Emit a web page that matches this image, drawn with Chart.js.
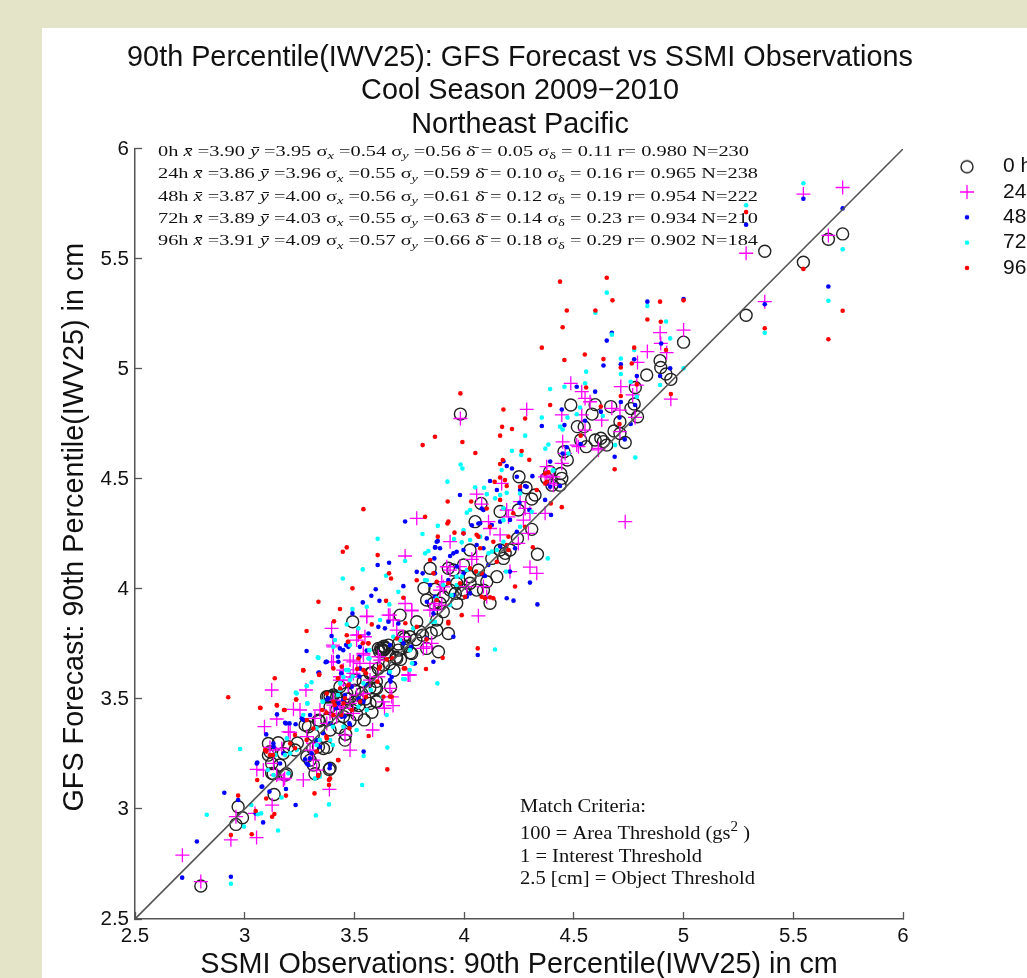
<!DOCTYPE html>
<html><head><meta charset="utf-8">
<script src="https://cdn.jsdelivr.net/npm/chart.js@4/dist/chart.umd.min.js"></script>
<style>
html,body{margin:0;padding:0;width:1027px;height:978px;overflow:hidden;background:#e4e4c9}
#panel{position:absolute;left:42px;top:28px;width:985px;height:950px;background:#fff}
#wrap{position:absolute;left:0;top:0;width:1027px;height:978px}
canvas{filter:blur(.4px)}
</style></head><body>
<div id="panel"></div><div id="wrap"><canvas id="c" width="1027" height="978"></canvas></div>
<script>
const titleLines=["90th Percentile(IWV25): GFS Forecast vs SSMI Observations","Cool Season 2009\u22122010","Northeast Pacific"];
const xAxisTitle="SSMI Observations: 90th Percentile(IWV25) in cm";
const yAxisTitle=" \u2009GFS Forecast: 90th Percentile(IWV25) in cm";
const xTicks=[2.5,3,3.5,4,4.5,5,5.5,6];
const yTicks=[2.5,3,3.5,4,4.5,5,5.5,6];
const diagonal=[[2.5,2.5],[6,6]];
const seriesNames=["0 hour","24 hour","48 hour","72 hour","96 hour"];
const statHours=["0h","24h","48h","72h","96h"];
const statXbar=["3.90","3.86","3.87","3.89","3.91"];
const statYbar=["3.95","3.96","4.00","4.03","4.09"];
const statSx=["0.54","0.55","0.56","0.55","0.57"];
const statSy=["0.56","0.59","0.61","0.63","0.66"];
const statDbar=["0.05","0.10","0.12","0.14","0.18"];
const statSd=["0.11","0.16","0.19","0.23","0.29"];
const statR=["0.980","0.965","0.954","0.934","0.902"];
const statN=["230","238","222","210","184"];

const hour0=[[5.725,5.614],[5.66,5.59],[5.546,5.485],[5.37,5.535],[5.285,5.244],[5.0,5.122],[4.893,5.038],[4.896,5.007],[4.92,4.977],[4.942,4.953],[4.832,4.973],[4.78,4.916],[4.486,4.836],[4.597,4.838],[4.668,4.829],[4.583,4.795],[4.775,4.841],[4.76,4.82],[4.79,4.783],[4.71,4.76],[4.683,4.718],[4.516,4.738],[4.547,4.738],[4.556,4.647],[4.531,4.677],[4.597,4.677],[4.623,4.685],[4.635,4.67],[4.65,4.654],[4.71,4.707],[4.734,4.666],[4.455,4.624],[4.47,4.586],[4.44,4.525],[4.445,4.503],[4.39,4.533],[4.376,4.503],[4.4,4.472],[4.437,4.472],[3.983,4.795],[4.25,4.51],[4.282,4.46],[4.077,4.389],[4.323,4.427],[4.308,4.409],[4.05,4.306],[4.164,4.352],[4.247,4.359],[4.308,4.271],[4.243,4.23],[4.164,4.177],[4.187,4.162],[4.209,4.177],[4.334,4.158],[4.027,4.177],[3.845,4.094],[3.928,4.094],[3.951,4.086],[3.997,4.109],[4.027,4.026],[4.057,3.995],[4.149,4.056],[4.103,4.033],[3.817,4.003],[3.867,3.999],[3.966,4.026],[3.936,3.995],[3.997,3.995],[4.088,3.995],[4.027,4.056],[4.065,4.086],[3.905,3.965],[3.829,3.95],[4.118,3.935],[3.989,3.98],[3.86,3.935],[3.89,3.935],[3.966,3.935],[4.126,4.139],[4.179,4.139],[3.492,3.851],[3.708,3.881],[3.784,3.851],[3.875,3.813],[3.928,3.798],[3.829,3.73],[3.883,3.715],[3.761,3.707],[3.624,3.722],[3.632,3.737],[3.693,3.684],[3.73,3.775],[3.632,3.654],[3.609,3.639],[3.571,3.616],[3.503,3.586],[3.434,3.556],[3.601,3.548],[3.404,3.518],[3.373,3.51],[3.571,3.48],[3.601,3.487],[3.518,3.495],[3.495,3.472],[3.389,3.465],[3.434,3.48],[3.723,3.783],[3.7,3.722],[3.632,3.722],[3.609,3.73],[3.655,3.745],[3.753,3.783],[3.799,3.806],[3.875,3.859],[3.905,3.897],[3.62,3.73],[3.63,3.72],[3.64,3.73],[3.615,3.715],[3.635,3.74],[3.389,3.51],[3.419,3.51],[3.336,3.404],[3.275,3.382],[3.29,3.374],[3.108,3.298],[3.153,3.301],[3.199,3.283],[3.229,3.268],[3.457,3.313],[3.359,3.275],[3.336,3.283],[3.389,3.185],[3.298,3.222],[3.313,3.2],[3.123,3.207],[3.123,3.162],[3.184,3.154],[3.134,3.066],[3.283,3.238],[3.108,3.245],[3.115,3.26],[3.176,3.253],[3.465,3.457],[3.503,3.488],[3.533,3.525],[3.419,3.45],[3.465,3.525],[3.374,3.404],[3.389,3.359],[3.313,3.336],[2.80,2.65],[2.97,3.01],[2.99,2.96],[2.96,2.93],[3.385,3.18],[3.32,3.16],[3.19,3.16],[3.13,3.16],[3.16,3.2],[3.24,3.30],[3.34,3.40],[3.375,3.28],[3.31,3.275],[3.38,3.51],[3.40,3.51],[3.60,3.49],[3.58,3.44],[3.545,3.405],[3.51,3.43],[3.43,3.37],[3.46,3.34],[3.665,3.555],[3.595,3.55],[3.755,3.71],[3.69,3.69],[3.45,3.42],[3.48,3.40],[3.52,3.47],[3.55,3.50],[3.57,3.55],[3.60,3.58],[3.66,3.66],[3.68,3.63],[3.71,3.68],[3.74,3.74],[3.78,3.77],[3.81,3.79],[3.85,3.80],[3.96,3.98],[3.50,3.54],[3.54,3.58],[3.47,3.50],[3.66,3.70],[3.70,3.75],[3.58,3.62]];

const hour24=[[5.725,5.825],[5.546,5.795],[5.66,5.607],[5.285,5.526],[5.37,5.306],[5.0,5.177],[4.893,5.165],[4.896,5.116],[4.923,5.074],[4.835,5.079],[4.79,5.03],[4.714,4.92],[4.787,4.927],[4.768,4.882],[4.942,4.863],[4.486,4.935],[4.536,4.897],[4.551,4.866],[4.574,4.851],[4.673,4.821],[4.71,4.813],[4.445,4.791],[4.536,4.791],[4.627,4.768],[4.551,4.722],[4.71,4.715],[4.779,4.78],[4.449,4.669],[4.521,4.647],[4.612,4.632],[4.445,4.571],[4.407,4.51],[4.369,4.51],[4.407,4.472],[3.983,4.775],[4.285,4.816],[4.734,4.306],[4.171,4.48],[4.057,4.431],[4.08,4.386],[3.936,4.215],[4.376,4.556],[4.255,4.397],[4.278,4.366],[4.194,4.359],[4.369,4.344],[4.111,4.306],[4.118,4.275],[4.247,4.207],[4.27,4.313],[4.202,4.328],[4.3,4.344],[4.392,4.48],[4.46,4.616],[4.513,4.654],[4.612,4.639],[4.057,4.147],[4.035,4.135],[4.3,4.099],[4.331,4.071],[4.209,4.079],[3.981,4.102],[3.898,4.033],[3.89,3.995],[4.088,4.011],[4.012,4.011],[3.936,4.086],[4.293,4.253],[4.164,4.246],[3.867,3.935],[4.103,3.965],[4.377,4.518],[3.784,4.321],[3.731,4.15],[3.556,3.877],[3.396,3.821],[3.655,3.881],[3.731,3.934],[3.761,3.901],[3.51,3.79],[4.065,3.878],[3.753,3.609],[3.404,3.737],[3.51,3.768],[3.693,3.813],[3.852,3.753],[3.814,3.73],[3.495,3.669],[3.541,3.7],[3.396,3.669],[3.677,3.859],[3.905,4.01],[3.86,3.904],[3.921,4.101],[3.48,3.6],[3.609,3.692],[3.723,3.783],[3.123,3.541],[3.279,3.541],[3.222,3.453],[3.252,3.45],[3.146,3.409],[3.09,3.374],[3.199,3.351],[3.055,3.18],[3.267,3.132],[3.386,3.089],[3.48,3.268],[3.457,3.336],[3.115,3.28],[3.085,3.177],[3.32,3.412],[3.343,3.45],[3.176,3.132],[3.146,3.154],[3.131,3.268],[3.298,3.268],[3.313,3.222],[3.328,3.177],[3.374,3.389],[3.419,3.419],[3.511,3.632],[3.434,3.586],[2.716,2.79],[2.937,2.86],[3.054,2.87],[2.80,2.67],[2.96,2.965],[3.125,3.018],[3.182,3.139],[3.047,2.98],[3.207,3.348],[3.583,3.359],[3.676,3.47],[3.745,3.609],[3.402,3.745],[3.637,3.458],[3.556,3.874],[3.662,3.881],[3.761,3.904],[3.518,3.791],[3.548,3.783],[3.404,3.669],[3.449,3.631],[3.48,3.677],[3.525,3.662],[3.571,3.662],[3.617,3.677],[3.541,3.707],[3.609,3.601],[3.67,3.51],[3.746,3.609],[3.829,3.737],[3.844,3.904],[3.898,3.927],[3.495,3.616],[3.434,3.601],[3.472,3.563],[3.571,3.586],[3.662,3.548],[3.404,3.472],[3.449,3.457],[3.51,3.518],[3.541,3.525],[3.632,3.487],[3.45,3.586],[3.48,3.48],[3.404,3.495],[3.434,3.465],[3.389,3.435],[3.495,3.435],[3.283,3.329],[3.313,3.298],[3.169,3.275],[3.131,3.207]];

const hour48=[[5.725,5.73],[5.546,5.774],[5.66,5.375],[5.37,5.294],[5.285,5.656],[4.835,5.306],[5.0,5.318],[4.673,5.165],[4.65,5.129],[4.898,5.116],[4.775,5.044],[4.714,5.021],[4.635,5.016],[4.939,5.003],[4.787,4.968],[4.893,4.968],[4.513,4.919],[4.597,4.897],[4.445,4.816],[4.714,4.85],[4.623,4.806],[4.779,4.836],[4.708,4.779],[4.354,4.741],[4.457,4.745],[4.551,4.765],[4.759,4.75],[4.732,4.68],[4.531,4.659],[4.468,4.644],[4.449,4.616],[4.392,4.579],[4.686,4.601],[4.437,4.468],[4.376,4.48],[4.179,4.581],[4.194,4.559],[4.218,4.548],[4.311,4.513],[4.118,4.491],[4.24,4.51],[4.278,4.468],[3.981,4.427],[4.08,4.366],[4.088,4.359],[4.396,4.336],[4.252,4.392],[4.297,4.359],[4.035,4.29],[4.065,4.298],[3.997,4.253],[3.88,4.218],[3.867,4.189],[4.164,4.306],[4.24,4.26],[4.103,4.23],[3.875,4.215],[3.951,4.162],[3.936,4.15],[3.997,4.177],[3.811,4.071],[3.867,4.071],[4.209,4.079],[4.095,4.059],[4.194,3.958],[4.225,3.947],[4.334,3.93],[4.3,4.029],[4.012,3.965],[3.867,3.965],[4.073,4.299],[4.126,4.291],[4.209,4.314],[4.088,4.185],[3.966,4.102],[4.232,4.185],[3.731,4.307],[3.658,4.119],[3.606,4.109],[3.597,3.999],[3.577,3.969],[3.538,3.939],[3.491,3.889],[3.614,3.946],[3.723,4.013],[3.784,4.078],[3.396,3.786],[3.282,3.718],[3.336,3.619],[3.371,3.669],[3.864,4.139],[3.869,4.189],[4.062,3.7],[3.776,3.662],[3.86,3.669],[3.434,3.73],[3.472,3.737],[3.564,3.798],[3.655,3.851],[3.7,3.843],[3.83,3.942],[3.966,4.169],[3.951,3.783],[3.609,3.828],[3.526,3.639],[3.67,3.6],[3.427,3.669],[3.723,3.753],[3.86,3.889],[4.027,3.98],[2.715,2.688],[2.782,2.852],[2.937,2.692],[2.907,3.074],[2.97,3.041],[3.084,2.939],[3.05,2.98],[3.113,3.079],[3.08,3.102],[3.188,3.091],[3.232,3.018],[3.147,3.43],[3.057,3.211],[3.098,3.339],[3.339,3.62],[3.542,3.261],[3.625,3.382],[3.369,3.667],[3.188,3.389],[3.204,3.389],[3.232,3.385],[3.267,3.405],[3.375,3.498],[3.387,3.185],[3.297,3.23],[3.275,3.226],[3.305,3.253],[3.44,3.617],[3.425,3.692],[3.462,3.745],[3.523,3.602],[3.477,3.389],[3.455,3.42],[3.357,3.344],[3.417,3.458],[3.658,3.617],[3.665,3.579],[3.77,3.662],[3.523,3.692],[3.132,3.283],[3.177,3.253],[3.449,3.722],[3.662,3.745],[3.662,3.586],[3.525,3.737],[3.556,3.72],[3.758,3.737],[3.829,3.775],[3.556,3.563],[3.639,3.821],[3.449,3.495],[3.541,3.487],[3.131,3.298],[3.184,3.392],[3.26,3.412],[3.298,3.427],[3.29,3.2],[3.283,3.207],[3.389,3.2],[3.343,3.283],[3.457,3.518],[3.488,3.556],[3.518,3.503],[3.427,3.48],[3.381,3.503],[3.442,3.419],[3.374,3.669],[3.48,3.382],[3.328,3.313],[3.389,3.389],[3.161,3.207],[3.055,3.207],[3.077,3.101],[3.89,4.185],[4.149,4.45],[4.057,4.2],[4.11,4.109],[4.164,4.193],[4.255,4.45],[4.285,4.465],[4.392,4.465],[4.369,4.405],[3.928,4.041],[3.997,4.071],[3.845,4.018],[4.088,4.064],[3.951,3.973]];

const hour72=[[5.546,5.844],[5.725,5.544],[5.66,5.31],[5.37,5.165],[5.285,5.744],[4.65,5.347],[4.598,5.256],[4.835,5.286],[4.92,5.216],[4.673,5.156],[4.775,5.086],[4.714,5.048],[4.939,5.139],[4.556,4.988],[4.714,4.977],[5.0,5.003],[4.759,4.942],[4.551,4.935],[4.392,4.909],[4.457,4.919],[4.893,4.927],[4.787,4.874],[4.354,4.779],[4.528,4.825],[4.471,4.779],[4.513,4.794],[4.632,4.786],[4.437,4.738],[4.449,4.725],[4.384,4.657],[4.37,4.638],[4.688,4.654],[4.78,4.598],[4.404,4.538],[4.475,4.616],[4.278,4.697],[4.218,4.628],[4.26,4.609],[3.984,4.566],[3.992,4.548],[3.924,4.488],[4.05,4.462],[4.091,4.46],[4.103,4.431],[4.141,4.412],[4.194,4.437],[4.164,4.427],[4.027,4.359],[4.012,4.347],[3.81,4.25],[3.88,4.287],[3.997,4.268],[3.954,4.227],[3.989,4.212],[4.255,4.434],[4.407,4.54],[4.308,4.351],[4.179,4.313],[4.171,4.541],[3.822,4.162],[3.837,4.173],[4.381,4.139],[4.191,4.079],[3.822,4.041],[4.179,4.215],[4.126,4.17],[3.989,4.056],[3.943,3.973],[3.966,4.018],[4.065,4.071],[3.875,3.958],[3.606,4.228],[3.538,4.089],[3.447,4.048],[3.644,4.06],[3.731,4.127],[3.7,3.987],[3.491,3.909],[3.556,3.919],[3.465,3.839],[3.659,3.93],[3.617,3.859],[3.336,3.687],[4.141,3.725],[3.83,4.04],[3.48,3.745],[3.564,3.684],[3.404,3.737],[3.45,3.6],[3.852,3.851],[3.708,3.768],[3.753,3.722],[2.937,2.66],[2.827,2.974],[2.979,3.273],[3.03,3.018],[3.075,2.98],[3.06,2.976],[3.152,2.902],[3.324,2.971],[3.384,3.021],[3.535,3.109],[3.168,3.052],[2.997,2.92],[3.233,3.529],[3.282,3.559],[3.305,3.576],[3.333,3.689],[3.285,3.48],[3.542,3.241],[3.65,3.279],[3.647,3.427],[3.722,3.591],[3.752,3.632],[3.763,3.662],[3.402,3.291],[3.402,3.374],[3.192,3.321],[3.357,3.488],[3.462,3.632],[3.105,3.177],[3.207,3.253],[3.267,3.427],[3.342,3.314],[3.327,3.367],[3.14,3.245],[3.342,3.147],[3.425,3.518],[3.492,3.602],[3.575,3.541],[3.628,3.51],[3.411,3.768],[3.568,3.722],[3.878,3.571],[3.568,3.684],[3.518,3.821],[3.73,3.59],[3.662,3.624],[3.472,3.631],[3.541,3.571],[3.677,3.783],[3.434,3.541],[3.867,3.851],[3.768,3.821],[3.237,3.525],[3.283,3.559],[3.286,3.48],[3.355,3.488],[3.435,3.571],[3.51,3.359],[3.32,3.139],[3.131,3.154],[3.184,3.245],[3.237,3.268],[3.199,3.162],[3.328,3.291],[3.389,3.313],[3.45,3.374],[3.556,3.45],[3.518,3.465],[3.48,3.586],[4.179,4.367],[4.255,4.283],[4.073,4.238],[4.111,4.162],[4.027,4.223],[4.149,4.177],[3.966,4.056],[4.012,4.086],[3.905,4.018],[3.936,3.927]];

const hour96=[[5.546,5.455],[5.725,5.265],[5.66,5.135],[5.37,5.185],[5.285,5.713],[4.65,5.415],[4.437,5.397],[4.676,5.312],[4.893,5.306],[5.0,5.312],[4.468,5.266],[4.598,5.266],[4.449,5.19],[4.835,5.225],[4.896,5.215],[4.354,5.097],[4.55,5.066],[4.457,5.041],[4.635,5.045],[4.775,5.097],[4.92,5.086],[4.764,5.025],[4.714,5.007],[4.787,4.93],[4.556,4.916],[4.942,4.886],[4.714,4.877],[4.392,4.836],[4.623,4.829],[4.708,4.75],[4.531,4.697],[4.686,4.544],[4.384,4.53],[4.369,4.48],[3.983,4.889],[4.179,4.816],[4.173,4.737],[4.218,4.727],[4.164,4.697],[3.867,4.692],[3.811,4.654],[3.992,4.668],[4.051,4.618],[4.278,4.775],[4.262,4.627],[4.297,4.587],[4.176,4.586],[4.164,4.568],[4.164,4.507],[4.186,4.495],[4.194,4.468],[4.139,4.487],[3.822,4.328],[3.925,4.398],[4.032,4.398],[3.928,4.306],[3.924,4.298],[4.445,4.372],[4.395,4.389],[4.255,4.465],[4.103,4.366],[4.377,4.487],[4.369,4.525],[3.956,4.256],[3.88,4.238],[3.997,4.253],[3.845,4.132],[4.313,4.19],[4.054,4.079],[4.232,4.011],[3.86,4.071],[4.08,4.071],[4.133,3.958],[4.095,3.958],[4.004,3.965],[4.202,4.238],[4.133,4.215],[4.057,4.246],[4.073,4.185],[3.928,4.026],[3.875,4.033],[3.541,4.363],[3.447,4.169],[3.465,4.189],[3.606,4.154],[3.658,4.071],[3.667,4.048],[3.491,4.003],[3.336,3.942],[3.434,3.909],[3.407,3.853],[3.282,3.809],[3.784,4.04],[3.644,3.946],[3.723,3.96],[3.579,3.839],[3.267,3.631],[3.34,3.612],[3.404,3.639],[4.062,3.73],[3.902,3.687],[3.826,3.636],[3.731,3.639],[3.989,3.881],[4.118,3.962],[4.08,3.965],[3.928,3.843],[3.465,3.79],[3.564,3.753],[3.617,3.647],[3.518,3.684],[3.442,3.647],[3.693,3.775],[3.875,3.95],[2.925,3.508],[3.072,3.459],[3.267,3.63],[3.339,3.609],[3.137,3.594],[3.147,3.47],[3.182,3.45],[3.235,3.498],[3.353,3.45],[3.372,3.438],[3.057,3.132],[3.099,3.261],[2.97,3.061],[2.937,2.882],[3.032,2.885],[3.05,2.991],[3.098,3.048],[3.188,3.061],[3.125,2.965],[3.135,2.977],[3.318,3.071],[3.384,3.109],[3.384,3.132],[3.65,3.18],[3.425,3.223],[3.565,3.332],[3.725,3.639],[3.662,3.511],[3.335,3.15],[3.129,3.245],[3.44,3.427],[3.477,3.367],[3.553,3.617],[3.613,3.639],[3.372,3.329],[3.282,3.314],[3.23,3.276],[3.327,3.261],[3.41,3.473],[3.425,3.594],[3.47,3.76],[3.538,3.753],[3.673,3.685],[3.605,3.579],[3.563,3.753],[3.647,3.68],[3.553,3.51],[3.632,3.51],[3.67,3.51],[3.513,3.637],[3.732,3.844],[3.829,3.771],[3.928,3.851],[3.146,3.473],[3.07,3.46],[3.234,3.498],[3.179,3.45],[3.374,3.525],[3.435,3.548],[3.488,3.45],[3.526,3.488],[3.45,3.48],[3.404,3.427],[3.374,3.321],[3.313,3.366],[3.093,3.268],[3.115,3.245],[3.207,3.298],[3.389,3.139],[3.427,3.222],[3.336,3.154],[3.283,3.404],[3.229,3.336],[3.525,3.783],[3.472,3.76],[3.784,3.828],[3.541,3.631],[3.472,3.563],[3.457,3.503],[3.404,3.487],[4.202,4.177],[4.065,4.238],[4.118,4.283],[4.164,4.405],[4.224,4.344],[4.278,4.283],[4.027,4.094],[4.149,4.124],[3.981,4.026],[4.194,4.2],[4.331,4.45]];

const toPts=a=>a.map(p=>({x:p[0],y:p[1]}));
function icon(draw){const c=document.createElement('canvas');c.width=c.height=18;const g=c.getContext('2d');draw(g);return c;}
const circleIcon=icon(g=>{g.strokeStyle='#222';g.lineWidth=1.4;g.beginPath();g.arc(9,9,6,0,7);g.stroke();});
const crossIcon=icon(g=>{g.strokeStyle='#f0f';g.lineWidth=1.3;g.beginPath();g.moveTo(2,9);g.lineTo(16,9);g.moveTo(9,2);g.lineTo(9,16);g.stroke();});
const dotIcon=col=>icon(g=>{g.fillStyle=col;g.beginPath();g.arc(9,9,2.3,0,7);g.fill();});
const legendIcons=[circleIcon,crossIcon,dotIcon('#00f'),dotIcon('#0ff'),dotIcon('#f00')];

const SERIF='"Liberation Serif"';
function drawRuns(ctx,x,y,runs,size,targetWidth){
  const fontOf=r=>`${r.i?'italic ':''}${r.s?Math.round(size*.72):size}px ${SERIF}`;
  let w=0;runs.forEach(r=>{ctx.font=fontOf(r);w+=ctx.measureText(r.t).width;});
  const k=targetWidth?targetWidth/w:1;
  ctx.save();ctx.translate(x,y);ctx.scale(k,1);
  let cx=0;runs.forEach(r=>{ctx.font=fontOf(r);ctx.fillText(r.t,cx,(r.s===1?size*.22:0)+(r.s===2?-size*.42:0));cx+=ctx.measureText(r.t).width;});
  ctx.restore();
}
const statsPlugin={id:'texts',afterDatasetsDraw(chart){
  const ctx=chart.ctx,xs=chart.scales.x,ys=chart.scales.y;
  ctx.save();ctx.fillStyle='#111';ctx.textBaseline='alphabetic';ctx.textAlign='left';
  const left=xs.left+23,top=ys.top+7,step=22.3;
  statHours.forEach((h,i)=>{
    drawRuns(ctx,left,top+i*step,[
      {t:h+' '},{t:'x\u0304',i:1},{t:' ='+statXbar[i]+' '},{t:'y\u0304',i:1},{t:' ='+statYbar[i]+' '},
      {t:'\u03c3'},{t:'x',i:1,s:1},{t:' ='+statSx[i]+' '},{t:'\u03c3'},{t:'y',i:1,s:1},{t:' ='+statSy[i]+' '},
      {t:'\u03b4\u0304'},{t:' = '+statDbar[i]+' '},{t:'\u03c3'},{t:'\u03b4',s:1},{t:' = '+statSd[i]+' '},
      {t:'r= '+statR[i]+' N='+statN[i]}],15.5,i===0?591:600);
  });
  const ax=xs.left+385,ay=ys.bottom;
  const S=19;
  drawRuns(ctx,ax,ay-107,[{t:'Match Criteria:'}],S,126);
  drawRuns(ctx,ax,ay-80,[{t:'100 = Area Threshold (gs'},{t:'2',s:2},{t:' )'}],S,230);
  drawRuns(ctx,ax,ay-57,[{t:'1 = Interest Threshold'}],S,182);
  drawRuns(ctx,ax,ay-35,[{t:'2.5 [cm] = Object Threshold'}],S,235);
  ctx.restore();
}};
const legendPlace={id:'legendPlace',afterLayout(chart){
  const l=chart.legend;l.left=937.2;l.top=151.9;l.right=1100;l.bottom=300;l.width=162.8;l.height=148;
  const t=chart.titleBlock;t.left=100;t.right=940;t.width=840;
}};
const axisColor='#555';
const tickFont={family:'"Liberation Sans"',size:20.5};
const legendFont={family:'"Liberation Sans"',size:21};
const titleFont={family:'"Liberation Sans"',size:28.8,weight:'normal'};
const axisTitleFont={family:'"Liberation Sans"',size:28.75,weight:'normal',lineHeight:1};
new Chart(document.getElementById('c'),{
  type:'scatter',
  plugins:[statsPlugin,legendPlace],
  data:{datasets:[
    {label:seriesNames[0],data:toPts(hour0),pointStyle:'circle',pointRadius:6,pointBorderWidth:1.4,pointBorderColor:'#222',pointBackgroundColor:'transparent',order:5},
    {label:seriesNames[1],data:toPts(hour24),pointStyle:'cross',pointRadius:7,pointBorderWidth:1.3,pointBorderColor:'#f0f',order:4},
    {label:seriesNames[2],data:toPts(hour48),pointStyle:'circle',pointRadius:2.3,pointBorderWidth:0,pointBackgroundColor:'#00f',order:3},
    {label:seriesNames[3],data:toPts(hour72),pointStyle:'circle',pointRadius:2.3,pointBorderWidth:0,pointBackgroundColor:'#0ff',order:2},
    {label:seriesNames[4],data:toPts(hour96),pointStyle:'circle',pointRadius:2.3,pointBorderWidth:0,pointBackgroundColor:'#f00',order:1},
    {label:'1:1',data:toPts(diagonal),showLine:true,pointRadius:0,borderColor:'#555',borderWidth:1.6,order:0}
  ]},
  options:{
    responsive:false,animation:false,
    layout:{padding:{left:52,top:0,right:124,bottom:0}},
    plugins:{
      title:{display:true,text:titleLines,color:'#111',fullSize:false,font:{...titleFont,lineHeight:1.163},padding:{top:41,bottom:7.5}},
      tooltip:{enabled:false},
      legend:{position:'chartArea',align:'start',
        labels:{usePointStyle:true,pointStyleWidth:51,padding:4.3,color:'#111',font:legendFont,
          generateLabels:()=>seriesNames.map((n,i)=>({text:n,pointStyle:legendIcons[i],datasetIndex:i,hidden:false,fontColor:'#111',lineWidth:0,strokeStyle:'transparent',fillStyle:'transparent'}))}}
    },
    scales:{
      x:{type:'linear',min:2.5,max:6,
        afterBuildTicks:s=>{s.ticks=xTicks.map(v=>({value:v}));},
        afterFit:s=>{s.height=59;},
        title:{display:true,text:xAxisTitle,color:'#111',font:axisTitleFont,padding:{top:0,bottom:-1}},
        border:{color:axisColor,width:1.5},
        grid:{drawOnChartArea:false,drawTicks:true,tickLength:-7,tickColor:axisColor,tickWidth:1.3},
        ticks:{color:'#111',font:tickFont,padding:12.5,maxRotation:0,autoSkip:false,callback:v=>String(v)}},
      y:{type:'linear',min:2.5,max:6,
        afterBuildTicks:s=>{s.ticks=yTicks.map(v=>({value:v}));},
        afterFit:s=>{s.width=83;},
        title:{display:true,text:yAxisTitle,color:'#111',font:axisTitleFont,padding:{top:8.5,bottom:0}},
        border:{color:axisColor,width:1.5},
        grid:{drawOnChartArea:false,drawTicks:true,tickLength:-7,tickColor:axisColor,tickWidth:1.3},
        ticks:{color:'#111',font:tickFont,padding:13,autoSkip:false,callback:v=>String(v)}}
    }
  }
});
</script></body></html>
